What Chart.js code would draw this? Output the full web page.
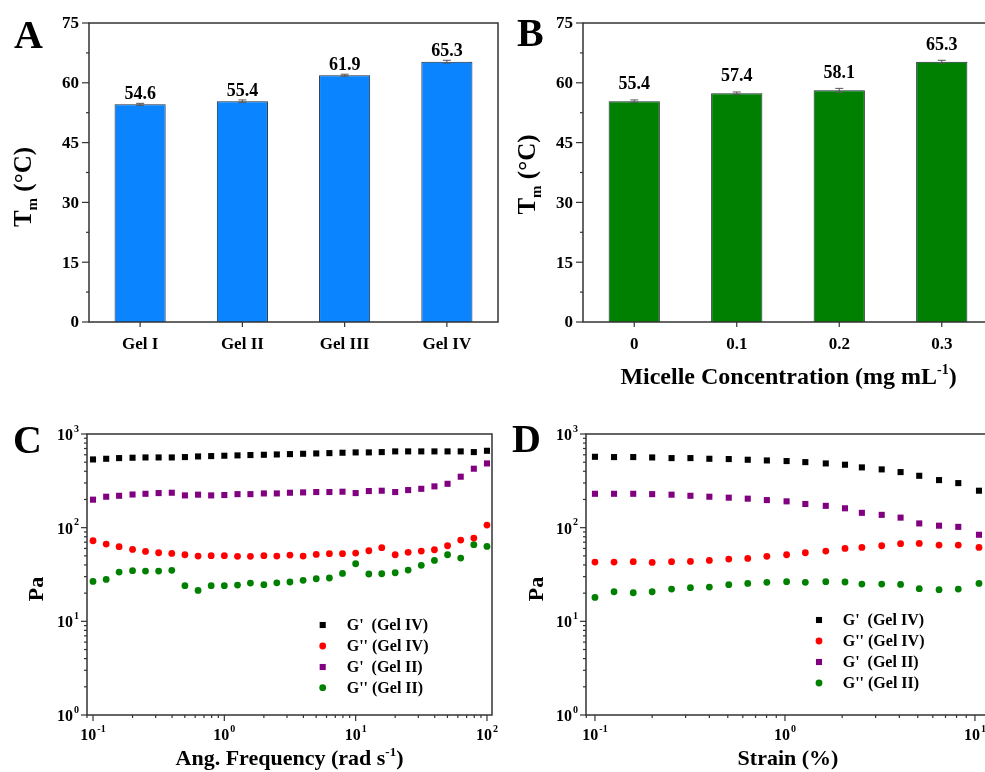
<!DOCTYPE html>
<html><head><meta charset="utf-8">
<script src="https://cdn.jsdelivr.net/npm/chart.js"></script>
<style>
html,body{margin:0;padding:0;background:#fff;overflow:hidden;width:985px;height:772px;}
canvas{position:absolute;}
</style></head><body>
<canvas id="cA" width="500" height="395" style="left:0;top:0"></canvas>
<canvas id="cB" width="500" height="395" style="left:500px;top:0"></canvas>
<canvas id="cC" width="500" height="377" style="left:0;top:395px"></canvas>
<canvas id="cD" width="500" height="377" style="left:500px;top:395px"></canvas>
<script>
// ---------- data ----------
const catsA = ['Gel I', 'Gel II', 'Gel III', 'Gel IV'];
const tmA = [54.6, 55.4, 61.9, 65.3];
const errA = [0.25, 0.3, 0.25, 0.35];
const catsB = ['0', '0.1', '0.2', '0.3'];
const tmB = [55.4, 57.4, 58.1, 65.3];
const errB = [0.3, 0.3, 0.5, 0.35];
const barTicks = [0, 15, 30, 45, 60, 75];

const freq = [0.1, 0.126, 0.158, 0.2, 0.251, 0.316, 0.398, 0.501, 0.631, 0.794, 1, 1.26, 1.58, 2, 2.51, 3.16, 3.98, 5.01, 6.31, 7.94, 10, 12.6, 15.8, 20, 25.1, 31.6, 39.8, 50.1, 63.1, 79.4, 100];
const cGpIV = [535, 544, 553, 558, 562, 562, 562, 567, 576, 581, 586, 591, 596, 600, 605, 610, 615, 620, 625, 631, 636, 636, 641, 652, 652, 652, 652, 652, 652, 641, 662];
const cGppIV = [72.5, 66.8, 62.6, 58.6, 55.8, 54.0, 53.1, 51.4, 49.8, 50.2, 50.2, 49.4, 49.4, 50.2, 49.8, 51.0, 49.8, 51.8, 52.7, 52.7, 53.6, 56.7, 61.1, 51.4, 54.5, 56.3, 58.1, 64.1, 73.8, 77.4, 106.6];
const cGpII = [199, 214, 219, 226, 230, 234, 236, 221, 225, 221, 223, 228, 228, 232, 232, 236, 238, 240, 240, 242, 234, 246, 248, 240, 252, 260, 276, 294, 350, 426, 485];
const cGppII = [26.7, 28.0, 33.6, 34.7, 34.4, 34.4, 35.0, 24.0, 21.4, 24.0, 24.0, 24.4, 25.6, 24.6, 25.8, 26.3, 27.4, 28.5, 29.0, 32.5, 41.2, 32.0, 32.2, 33.0, 35.3, 39.6, 44.7, 51.4, 47.4, 65.8, 63.1];

const strain = [0.1, 0.126, 0.159, 0.2, 0.253, 0.318, 0.4, 0.506, 0.637, 0.803, 1.02, 1.28, 1.64, 2.07, 2.54, 3.23, 4.06, 5.09, 6.47, 8.17, 10.5];
const dGpIV = [571, 567, 567, 562, 553, 553, 544, 540, 531, 522, 514, 501, 485, 470, 440, 419, 392, 358, 322, 299, 248];
const dGppIV = [42.9, 42.9, 43.3, 42.6, 43.3, 43.6, 44.7, 46.2, 47.0, 49.4, 51.4, 54.0, 56.3, 60.1, 61.5, 64.1, 67.4, 67.9, 65.2, 65.2, 61.5];
const dGpII = [230, 230, 230, 228, 225, 219, 214, 209, 204, 197, 191, 179, 171, 161, 144, 137, 128, 111, 105, 102, 84];
const dGppII = [18.0, 20.7, 20.2, 20.7, 22.1, 22.9, 23.2, 24.6, 25.4, 26.1, 26.5, 26.1, 26.5, 26.3, 25.0, 25.0, 24.8, 22.3, 21.8, 22.1, 25.4];

const seriesNames = ["G'  (Gel IV)", "G'' (Gel IV)", "G'  (Gel II)", "G'' (Gel II)"];
const seriesColors = ['#000000', '#ff0000', '#800080', '#008000'];
const seriesShapes = ['rect', 'circle', 'rect', 'circle'];

// ---------- helpers ----------
const SERIF = "'Liberation Serif','Times New Roman',serif";
const AX = '#333333';
function font(sz) { return 'bold ' + sz + 'px ' + SERIF; }
function richWidth(ctx, runs) {
  let w = 0;
  runs.forEach(r => { ctx.font = font(r.size); w += ctx.measureText(r.t).width; });
  return w;
}
function drawRich(ctx, runs, x, y, rot) {
  ctx.save();
  ctx.translate(x, y);
  if (rot) ctx.rotate(-Math.PI / 2);
  const w = richWidth(ctx, runs);
  let cx = -w / 2;
  ctx.textAlign = 'left'; ctx.textBaseline = 'alphabetic'; ctx.fillStyle = '#000';
  runs.forEach(r => { ctx.font = font(r.size); ctx.fillText(r.t, cx, r.dy || 0); cx += ctx.measureText(r.t).width; });
  ctx.restore();
}
function drawPow(ctx, e, x, y, align) {
  const es = String(e);
  ctx.font = font(16); const bw = ctx.measureText('10').width;
  ctx.font = font(10); const ew = ctx.measureText(es).width;
  const tot = bw + ew + 1;
  const x0 = align === 'right' ? x - tot : x - tot / 2;
  ctx.textAlign = 'left'; ctx.textBaseline = 'middle'; ctx.fillStyle = '#000';
  ctx.font = font(16); ctx.fillText('10', x0, y);
  ctx.font = font(10); ctx.fillText(es, x0 + bw + 1, y - 7);
}

const CFG = {
  cA: { bars: true, cats: catsA, errs: errA, labelOff: 5.5, yTicks: barTicks,
        yTitle: { x: 31, y: 187, runs: [{ t: 'T', size: 25 }, { t: 'm', size: 15, dy: 6 }, { t: ' (°C)', size: 25 }] },
        letter: { t: 'A', x: 14, y: 48 } },
  cB: { bars: true, cats: catsB, errs: errB, labelOff: 12, yTicks: barTicks,
        yTitle: { x: 35, y: 174.5, runs: [{ t: 'T', size: 25 }, { t: 'm', size: 15, dy: 6 }, { t: ' (°C)', size: 25 }] },
        xTitle: { x: 288.5, y: 384, runs: [{ t: 'Micelle Concentration (mg mL', size: 24 }, { t: '-1', size: 14, dy: -10 }, { t: ')', size: 24 }] },
        letter: { t: 'B', x: 17, y: 46 } },
  cC: { bars: false,
        yTitle: { x: 43, y: 194, runs: [{ t: 'Pa', size: 22 }] },
        xTitle: { x: 289.5, y: 370, runs: [{ t: 'Ang. Frequency (rad s', size: 22 }, { t: '-1', size: 13, dy: -9 }, { t: ')', size: 22 }] },
        letter: { t: 'C', x: 13, y: 58 },
        legend: { mx: 322.7, tx: 346.7, ys: [230, 251, 272, 292.7] } },
  cD: { bars: false,
        yTitle: { x: 43, y: 194, runs: [{ t: 'Pa', size: 22 }] },
        xTitle: { x: 288, y: 370, runs: [{ t: 'Strain (%)', size: 22 }] },
        letter: { t: 'D', x: 12, y: 57 },
        legend: { mx: 319, tx: 342.7, ys: [225, 246, 267, 288] } }
};

const decor = {
  id: 'decor',
  afterDatasetsDraw(chart) {
    const o = CFG[chart.canvas.id];
    if (!o.bars) return;
    const ctx = chart.ctx, xs = chart.scales.x, ys = chart.scales.y;
    const ds = chart.data.datasets[0];
    ctx.save();
    ds.data.forEach((p, i) => {
      const px = xs.getPixelForValue(p.x);
      const e = o.errs[i];
      const y1 = ys.getPixelForValue(p.y - e), y2 = ys.getPixelForValue(p.y + e);
      ctx.strokeStyle = '#555'; ctx.lineWidth = 1;
      ctx.beginPath();
      ctx.moveTo(px, y1); ctx.lineTo(px, y2);
      ctx.moveTo(px - 4, y1); ctx.lineTo(px + 4, y1);
      ctx.moveTo(px - 4, y2); ctx.lineTo(px + 4, y2);
      ctx.stroke();
      ctx.fillStyle = '#000'; ctx.font = font(18); ctx.textAlign = 'center'; ctx.textBaseline = 'alphabetic';
      ctx.fillText(p.y.toFixed(1), px, ys.getPixelForValue(p.y) - o.labelOff);
    });
    ctx.restore();
  },
  afterDraw(chart) {
    const o = CFG[chart.canvas.id];
    const ctx = chart.ctx, a = chart.chartArea, xs = chart.scales.x, ys = chart.scales.y;
    ctx.save();
    ctx.strokeStyle = AX; ctx.lineWidth = 1.5;
    ctx.strokeRect(a.left, a.top, a.right - a.left, a.bottom - a.top);
    ctx.lineWidth = 1.2;
    const vt = (x, len) => { ctx.beginPath(); ctx.moveTo(x, a.bottom); ctx.lineTo(x, a.bottom + len); ctx.stroke(); };
    const ht = (y, len) => { ctx.beginPath(); ctx.moveTo(a.left, y); ctx.lineTo(a.left - len, y); ctx.stroke(); };
    ctx.fillStyle = '#000';
    if (o.bars) {
      o.yTicks.forEach((v, i) => {
        const y = ys.getPixelForValue(v);
        ht(y, 7);
        ctx.font = font(17); ctx.textAlign = 'right'; ctx.textBaseline = 'middle';
        ctx.fillText(String(v), a.left - 10, y + 1);
        if (i < o.yTicks.length - 1) ht(ys.getPixelForValue((v + o.yTicks[i + 1]) / 2), 3);
      });
      o.cats.forEach((c, i) => {
        const x = xs.getPixelForValue(i + 1);
        vt(x, 5);
        ctx.font = font(17); ctx.textAlign = 'center'; ctx.textBaseline = 'middle';
        ctx.fillText(c, x, a.bottom + 23);
      });
    } else {
      const inR = (s, v) => v >= s.min * 0.999 && v <= s.max * 1.001;
      for (let e = -2; e <= 3; e++) {
        for (let k = 1; k <= 9; k++) {
          const v = k * Math.pow(10, e);
          if (inR(xs, v)) {
            const x = xs.getPixelForValue(v);
            vt(x, k === 1 ? 6 : 3);
            if (k === 1) drawPow(ctx, e, x, a.bottom + 21, 'center');
          }
          if (inR(ys, v)) {
            const y = ys.getPixelForValue(v);
            ht(y, k === 1 ? 6 : 3);
            if (k === 1) drawPow(ctx, e, a.left - 8, y + 2, 'right');
          }
        }
      }
      // legend
      const L = o.legend;
      chart.data.datasets.forEach((d, i) => {
        const y = L.ys[i];
        ctx.fillStyle = d.backgroundColor;
        if (d.pointStyle === 'rect') {
          const s = 2 * d.pointRadius * Math.SQRT1_2;
          ctx.fillRect(L.mx - s / 2, y - s / 2, s, s);
        } else {
          ctx.beginPath(); ctx.arc(L.mx, y, d.pointRadius, 0, Math.PI * 2); ctx.fill();
        }
        ctx.fillStyle = '#000'; ctx.font = font(16); ctx.textAlign = 'left'; ctx.textBaseline = 'middle';
        ctx.fillText(d.label, L.tx, y + 1);
      });
    }
    if (o.yTitle) drawRich(ctx, o.yTitle.runs, o.yTitle.x, o.yTitle.y, true);
    if (o.xTitle) drawRich(ctx, o.xTitle.runs, o.xTitle.x, o.xTitle.y, false);
    ctx.fillStyle = '#000'; ctx.font = font(40); ctx.textAlign = 'left'; ctx.textBaseline = 'alphabetic';
    ctx.fillText(o.letter.t, o.letter.x, o.letter.y);
    ctx.restore();
  }
};

const hideScale = (extra, axis) => Object.assign({
  display: true,
  grid: { display: false },
  border: { display: false },
  ticks: { display: false },
  title: { display: false },
  afterFit: s => { if (axis === 'x') s.height = 0; else s.width = 0; }
}, extra);

const common = {
  responsive: false, animation: false, devicePixelRatio: 1, events: [],
  plugins: { legend: { display: false }, tooltip: { enabled: false } }
};

function barChart(id, cats, vals, color, pad) {
  return new Chart(document.getElementById(id), {
    type: 'bar',
    data: { datasets: [{ data: vals.map((v, i) => ({ x: i + 1, y: v })), backgroundColor: color,
      borderColor: '#1e2a36', borderWidth: 1, barPercentage: 0.5, categoryPercentage: 1 }] },
    options: Object.assign({}, common, {
      layout: { padding: pad },
      scales: {
        x: hideScale({ type: 'linear', min: 0.5, max: 4.5, offset: false,
          afterBuildTicks: s => { s.ticks = cats.map((c, i) => ({ value: i + 1 })); } }, 'x'),
        y: hideScale({ type: 'linear', min: 0, max: 75 }, 'y')
      }
    }),
    plugins: [decor]
  });
}

function scatterChart(id, xs, series, xmin, xmax, pad) {
  return new Chart(document.getElementById(id), {
    type: 'scatter',
    data: { datasets: series.map((ys, i) => ({
      label: seriesNames[i],
      data: ys.map((v, j) => ({ x: xs[j], y: v })),
      pointStyle: seriesShapes[i],
      pointRadius: seriesShapes[i] === 'rect' ? 4.3 : 3.4,
      backgroundColor: seriesColors[i], borderColor: seriesColors[i], borderWidth: 0
    })) },
    options: Object.assign({}, common, {
      layout: { padding: pad },
      scales: {
        x: hideScale({ type: 'logarithmic', min: xmin, max: xmax, bounds: 'data' }, 'x'),
        y: hideScale({ type: 'logarithmic', min: 1, max: 1000, bounds: 'data' }, 'y')
      }
    }),
    plugins: [decor]
  });
}

barChart('cA', catsA, tmA, '#0a84ff', { left: 89, top: 23, right: 2, bottom: 73 });
barChart('cB', catsB, tmB, '#008000', { left: 83, top: 23, right: 7, bottom: 73 });
scatterChart('cC', freq, [cGpIV, cGppIV, cGpII, cGppII], 0.0900, 109.2, { left: 87, top: 39, right: 8, bottom: 57 });
scatterChart('cD', strain, [dGpIV, dGppIV, dGpII, dGppII], 0.0897, 12.0, { left: 86, top: 39, right: 10, bottom: 57 });
</script></body></html>
